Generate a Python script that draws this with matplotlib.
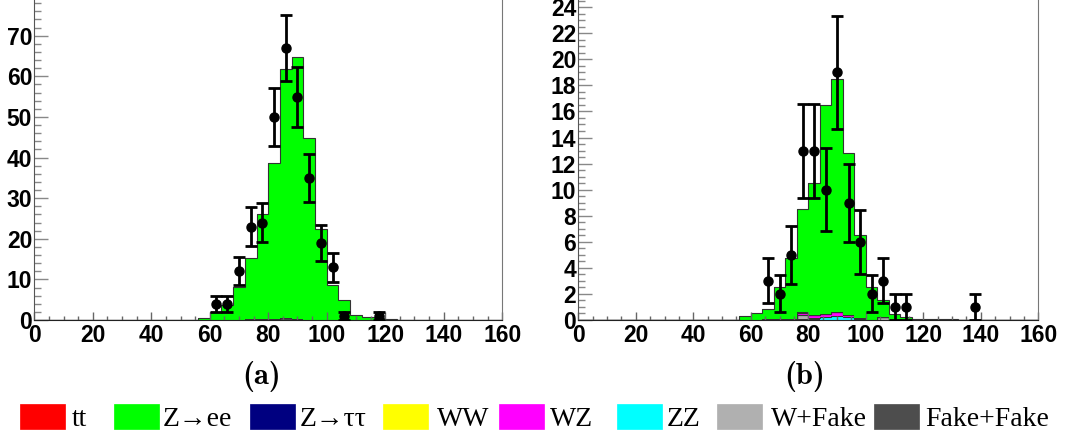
import numpy as np
import matplotlib.pyplot as plt
from matplotlib.patches import Rectangle

# 4 GeV bins from 0 to 160
edges = np.arange(0, 164, 4)
nbins = len(edges) - 1


def fill_bins(first_edge, vals):
    # place a list of bin contents starting at the bin whose low edge is first_edge
    h = np.zeros(nbins)
    i0 = int(first_edge // 4)
    h[i0:i0 + len(vals)] = vals
    return h


# ---- panel (a) ----
a_zee = fill_bins(52, [0.1, 0.4, 2.0, 3.6, 8.0, 14.9, 25.9, 38.4, 61.3, 64.6, 44.8, 22.5, 8.7,
                       5.0, 1.2, 0.65, 0.4, 0.15])
a_ztt = fill_bins(68, [0.1, 0.3, 0.3, 0.2])
a_fakefake = fill_bins(84, [0.5, 0.2])
a_wfake = fill_bins(84, [0.1])
a_data_x = [62, 66, 70, 74, 78, 82, 86, 90, 94, 98, 102, 106, 118]
a_data_y = [4, 4, 12, 23, 24, 50, 67, 55, 35, 19, 13, 1, 1]

# ---- panel (b) ----
b_zee = fill_bins(56, [0.3, 0.56, 0.8, 2.5, 4.7, 7.9, 10.1, 16.0, 17.9, 12.45, 6.35, 2.5, 1.28,
                       0.46, 0.2, 0.05, 0.05, 0.05, 0.05])
b_ztt = fill_bins(64, [0.05, 0.06, 0.08, 0.1])
b_ww = fill_bins(80, [0.02, 0.02, 0.02])
b_wz = fill_bins(76, [0.1, 0.25, 0.25, 0.3, 0.15, 0.05])
b_zz = fill_bins(76, [0.05, 0.1, 0.2, 0.3, 0.2, 0.1])
b_wfake = fill_bins(76, [0.3, 0.05, 0.0, 0.0, 0.0, 0.0, 0.0, 0.25])
b_fakefake = fill_bins(76, [0.05])
b_data_x = [66, 70, 74, 78, 82, 86, 90, 94, 98, 102, 106, 110, 114, 138]
b_data_y = [3, 2, 5, 13, 13, 10, 19, 9, 6, 2, 3, 1, 1, 1]

labels = ['tt', 'Z\u2192ee', 'Z\u2192\u03c4\u03c4', 'WW', 'WZ', 'ZZ', 'W+Fake', 'Fake+Fake']
colors = ['#ff0000', '#00ff00', '#000080', '#ffff00', '#ff00ff', '#00ffff', '#b0b0b0', '#4d4d4d']

# stacking order bottom -> top
stack_a = [(a_fakefake, colors[7]), (a_wfake, colors[6]), (a_ztt, colors[2]), (a_zee, colors[1])]
stack_b = [(b_fakefake, colors[7]), (b_wfake, colors[6]), (b_zz, colors[5]), (b_wz, colors[4]),
           (b_ww, colors[3]), (b_ztt, colors[2]), (b_zee, colors[1])]

fig = plt.figure(figsize=(10.88, 4.34), dpi=100)
ax_a = fig.add_axes([0.0315, 0.2627, 0.4301, 0.7373])
ax_b = fig.add_axes([0.5315, 0.2627, 0.4228, 0.7373])


def draw(ax, stack, dx, dy, ymax, ymajor, yminor):
    base = np.zeros(nbins)
    for h, c in stack:
        top = base + h
        ax.fill_between(edges, np.append(base, base[-1]), np.append(top, top[-1]),
                        step='post', color=c, lw=0)
        ax.stairs(top, edges, color='#333333', lw=0.8, baseline=None)
        base = top
    ax.errorbar(dx, dy, yerr=np.sqrt(dy), fmt='o', color='black', ms=6.5,
                elinewidth=2, capsize=4, capthick=2, zorder=5)
    ax.set_xlim(0, 160)
    ax.set_ylim(0, ymax)
    ax.set_xticks(np.arange(0, 161, 20))
    ax.set_xticks(np.arange(0, 161, 5), minor=True)
    ax.set_yticks(np.arange(0, ymax, ymajor))
    ax.set_yticks(np.arange(0, ymax, yminor), minor=True)
    ax.tick_params(axis='x', which='major', direction='in', length=6, width=1, color='#666666', pad=3)
    ax.tick_params(axis='x', which='minor', direction='in', length=3, width=1, color='#666666')
    ax.tick_params(axis='y', which='major', direction='in', length=10, width=1, color='#888888', pad=1.5)
    ax.tick_params(axis='y', which='minor', direction='in', length=5, width=1, color='#888888')
    for lab in ax.get_xticklabels() + ax.get_yticklabels():
        lab.set_fontfamily('Liberation Sans')
        lab.set_fontweight('bold')
        lab.set_fontsize(16.5)
    ax.spines['top'].set_visible(False)
    ax.spines['left'].set_color('#555555')
    ax.spines['right'].set_color('#777777')
    ax.spines['bottom'].set_color('#222222')


draw(ax_a, stack_a, a_data_x, a_data_y, 78.8, 10, 2)
draw(ax_b, stack_b, b_data_x, b_data_y, 24.55, 2, 0.5)

fig.text(262 / 1088, 1 - 376 / 434, '(a)', fontsize=22, ha='center', va='center',
         family=['cmb10', 'DejaVu Serif'])
fig.text(805 / 1088, 1 - 376 / 434, '(b)', fontsize=22, ha='center', va='center',
         family=['cmb10', 'DejaVu Serif'])

# legend row under the panels
box_x = [20, 114, 250, 383, 499, 617, 717, 874]
text_x = [72, 163, 300, 437, 550, 667, 771, 925]
for bx, tx, lab, c in zip(box_x, text_x, labels, colors):
    fig.patches.append(Rectangle((bx / 1088, 1 - 429 / 434), 45 / 1088, 25 / 434,
                                 transform=fig.transFigure, facecolor=c, edgecolor=c, lw=0.5))
    fig.text(tx / 1088, 1 - 426 / 434, lab, fontsize=20, va='baseline', ha='left',
             family=['Liberation Serif', 'DejaVu Serif'])

fig.savefig('out.png', dpi=100)
